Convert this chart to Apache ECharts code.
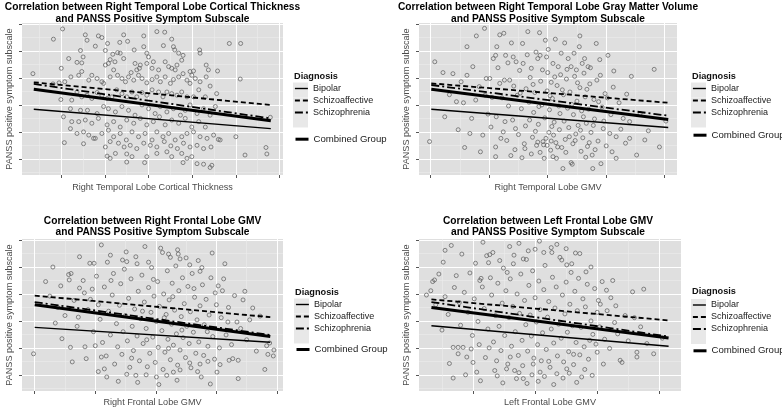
<!DOCTYPE html>
<html><head><meta charset="utf-8">
<script src="https://cdn.jsdelivr.net/npm/echarts@6/dist/echarts.min.js"></script>
<style>html,body{margin:0;padding:0;background:#fff}#c{width:782px;height:410px}</style>
</head><body><div id="c"></div>
<script>
// ---------- text ----------
const panelTitles = [
  'Correlation between Right Temporal Lobe Cortical Thickness\nand PANSS Positive Symptom Subscale',
  'Correlation between Right Temporal Lobe Gray Matter Volume\nand PANSS Positive Symptom Subscale',
  'Correlation between Right Frontal Lobe GMV\nand PANSS Positive Symptom Subscale',
  'Correlation between Left Frontal Lobe GMV\nand PANSS Positive Symptom Subscale'
];
const xAxisNames = ['Right Temporal Lobe Cortical Thickness','Right Temporal Lobe GMV','Right Frontal Lobe GMV','Left Frontal Lobe GMV'];
const yAxisName = 'PANSS positive symptom subscale';
const legendTitle = 'Diagnosis';
const diagnoses = ['Bipolar','Schizoaffective','Schizophrenia'];
const combinedName = 'Combined Group';

// ---------- ticks (unlabelled) ----------
const yTicks = [10,15,20,25,30,35];
const yMinorTicks = [7.5,12.5,17.5,22.5,27.5,32.5];
const p1XTicks = [1,2,3,4,5,6];
const p1XMinor = [0.5,1.5,2.5,3.5,4.5,5.5];
const p2XTicks = [1,2,3,4,5];
const p2XMinor = [1.5,2.5,3.5,4.5];
const p3XTicks = [1,2,3,4,5];
const p3XMinor = [1.5,2.5,3.5,4.5];
const p4XTicks = [2,3,4,5];
const p4XMinor = [1.5,2.5,3.5,4.5];

// ---------- regression lines (x ends, y ends) ----------
const p1LineX = [0.37, 5.80];
const p1Bipolar = [19.2, 15.6];
const p1Schizoaffective = [24.2, 20.0];
const p1Schizophrenia = [23.9, 17.5];
const p1Combined = [22.9, 17.05];

const p2LineX = [1.01, 5.06];
const p2Bipolar = [19.2, 15.8];
const p2Schizoaffective = [24.0, 20.4];
const p2Schizophrenia = [23.7, 18.0];
const p2Combined = [22.9, 17.3];

const p3LineX = [1.0, 4.89];
const p3Bipolar = [18.8, 16.05];
const p3Schizoaffective = [24.7, 20.7];
const p3Schizophrenia = [23.5, 17.4];
const p3Combined = [23.0, 17.1];

const p4LineX = [1.33, 5.15];
const p4Bipolar = [19.1, 15.3];
const p4Schizoaffective = [24.0, 20.1];
const p4Schizophrenia = [23.5, 17.1];
const p4Combined = [22.5, 16.85];

// ---------- scatter points [x, PANSS] ----------
const p1Points = [[1.03,34.1],[0.82,32.2],[1.55,33.0],[1.59,32.0],[1.85,32.8],[1.93,32.5],[2.43,33.0],[2.52,31.8],[2.34,31.6],[2.89,32.8],[3.19,33.6],[3.37,33.5],[3.53,32.2],[3.57,30.8],[3.60,30.2],[3.34,31.0],[4.85,31.4],[5.11,31.4],[1.44,30.1],[1.50,28.9],[1.17,28.6],[1.0,26.8],[1.36,27.9],[1.47,27.8],[1.78,30.9],[2.01,30.1],[2.06,31.4],[2.18,29.4],[2.23,28.0],[2.12,28.4],[2.08,27.7],[2.01,27.4],[2.29,29.7],[2.35,29.6],[2.43,28.6],[2.69,27.7],[2.81,27.4],[2.79,26.8],[2.96,29.6],[3.00,28.9],[3.11,28.0],[2.89,30.8],[2.67,30.2],[2.96,27.7],[2.73,26.5],[3.08,26.8],[3.23,26.5],[3.38,28.0],[3.46,27.1],[3.53,26.8],[3.61,26.5],[3.65,27.4],[3.76,28.3],[3.79,29.2],[3.69,29.6],[4.17,30.2],[4.18,29.6],[4.32,27.4],[4.37,26.5],[4.58,26.3],[3.95,26.2],[3.99,25.5],[4.03,26.3],[5.10,24.8],[0.35,25.8],[1.08,24.3],[0.95,24.1],[0.81,23.9],[1.22,25.2],[1.40,25.5],[1.47,26.2],[1.63,24.6],[1.70,25.5],[1.82,24.9],[1.93,24.3],[1.97,24.0],[2.12,25.2],[2.20,26.5],[2.29,25.5],[2.39,24.9],[2.47,24.3],[2.54,25.2],[2.60,26.0],[2.66,24.6],[2.77,25.5],[2.85,24.9],[2.96,24.1],[3.08,24.7],[3.19,25.2],[3.27,24.3],[3.38,25.2],[3.50,24.0],[3.57,24.7],[3.69,25.2],[3.79,25.8],[3.88,24.6],[3.95,24.0],[4.07,24.9],[4.18,24.3],[4.32,25.2],[4.41,23.5],[4.56,22.1],[4.30,21.5],[4.15,22.8],[4.03,21.5],[3.88,21.5],[3.76,22.4],[3.65,21.8],[3.53,22.1],[3.42,22.4],[3.33,21.5],[3.23,22.4],[3.08,22.8],[2.96,21.8],[2.85,22.3],[2.73,21.5],[2.62,22.4],[2.50,21.5],[2.39,22.1],[2.27,22.8],[2.16,21.5],[2.05,21.2],[1.93,21.8],[1.82,22.3],[1.70,21.2],[1.59,21.8],[1.47,21.5],[1.36,22.4],[1.24,20.9],[0.99,21.0],[1.21,19.3],[1.44,19.0],[1.60,19.0],[1.82,18.4],[1.97,19.7],[2.08,19.3],[2.24,18.7],[2.39,19.7],[2.54,19.0],[2.69,18.1],[2.85,20.0],[3.00,19.3],[3.15,18.4],[3.27,19.7],[3.42,18.7],[3.57,19.3],[3.73,18.1],[3.84,19.0],[3.95,20.0],[4.11,18.4],[4.26,19.3],[4.41,18.1],[4.53,19.7],[1.05,17.8],[1.24,16.9],[1.40,16.9],[1.55,17.2],[1.70,16.6],[1.85,17.5],[2.05,16.3],[2.20,16.9],[2.35,15.9],[2.50,17.2],[2.66,16.6],[2.81,17.5],[2.96,16.3],[3.11,16.9],[3.25,17.8],[3.38,16.3],[3.53,17.2],[3.69,16.6],[3.84,17.5],[3.99,15.9],[4.15,16.9],[4.30,15.9],[1.21,15.6],[1.36,14.7],[1.51,15.0],[1.63,14.4],[1.78,13.8],[1.93,14.7],[2.08,15.3],[2.20,14.1],[2.35,14.7],[2.49,13.5],[2.62,15.0],[2.77,14.1],[2.92,14.7],[3.08,13.5],[3.19,15.0],[3.33,14.1],[3.46,14.7],[3.61,13.5],[3.76,14.1],[3.88,14.7],[4.03,15.0],[4.18,14.1],[4.34,13.8],[4.49,14.4],[4.64,13.5],[5.00,14.1],[1.07,13.0],[1.51,12.8],[1.74,13.8],[2.01,12.2],[2.12,13.2],[2.31,12.9],[2.44,12.2],[2.58,12.5],[2.73,11.9],[2.89,12.9],[3.04,12.5],[3.19,12.2],[3.36,13.2],[3.51,12.4],[3.66,11.9],[3.80,12.9],[3.95,12.2],[4.11,12.5],[4.26,11.9],[4.43,12.2],[4.60,13.6],[2.05,10.5],[2.24,11.0],[2.50,10.9],[2.62,10.4],[2.96,10.4],[3.19,11.0],[3.42,11.3],[3.53,10.4],[3.76,11.0],[3.88,10.1],[3.99,10.4],[3.79,9.3],[4.11,9.1],[4.26,9.0],[4.41,8.4],[4.45,8.8],[2.91,9.3],[2.50,9.4],[2.12,10.1],[5.21,10.7],[5.69,12.1],[5.71,10.9],[5.79,17.7]];

const p2Points = [[0.98,13.2],[1.07,28.0],[1.24,17.8],[1.21,26.0],[1.38,25.8],[1.47,15.4],[1.44,20.6],[1.52,24.3],[1.62,25.5],[1.62,30.8],[1.67,14.7],[1.56,20.4],[1.77,20.9],[1.78,32.8],[1.72,27.1],[1.83,23.4],[1.89,14.4],[1.92,34.2],[1.95,24.9],[2.01,24.9],[1.98,18.3],[2.07,28.6],[2.11,29.2],[2.13,30.8],[2.12,17.8],[2.11,12.2],[2.11,10.4],[2.18,24.0],[2.18,33.0],[2.25,33.3],[2.26,24.6],[2.28,29.2],[2.22,21.3],[2.24,15.0],[2.30,13.4],[2.33,19.8],[2.35,24.6],[2.38,31.5],[2.41,28.9],[2.42,23.5],[2.40,17.2],[2.44,11.7],[2.46,28.0],[2.48,21.8],[2.50,14.5],[2.52,26.4],[2.55,19.3],[2.57,31.4],[2.58,27.7],[2.60,12.8],[2.62,16.1],[2.63,23.0],[2.66,33.6],[2.68,20.5],[2.70,25.1],[2.72,26.8],[2.72,10.9],[2.74,14.0],[2.76,18.6],[2.78,22.3],[2.80,29.8],[2.81,12.5],[2.83,28.6],[2.84,16.4],[2.86,33.4],[2.87,29.2],[2.88,24.4],[2.90,20.0],[2.92,13.2],[2.93,12.6],[2.95,17.6],[2.96,32.0],[2.98,28.9],[2.99,22.6],[3.00,26.0],[3.02,14.9],[3.03,19.1],[3.05,11.6],[3.06,24.2],[3.08,21.2],[3.09,27.7],[3.09,10.4],[3.11,16.8],[3.13,32.2],[3.14,13.0],[3.15,10.1],[3.16,23.6],[3.18,27.1],[3.19,19.8],[3.20,15.4],[3.22,25.6],[3.23,29.6],[3.24,12.1],[3.26,8.2],[3.27,21.9],[3.28,17.0],[3.29,31.5],[3.30,13.6],[3.32,24.8],[3.34,19.4],[3.35,28.6],[3.36,15.8],[3.38,22.4],[3.40,27.1],[3.40,9.3],[3.42,9.0],[3.43,12.8],[3.44,18.2],[3.46,25.3],[3.48,14.6],[3.49,26.5],[3.50,20.7],[3.52,16.2],[3.54,30.8],[3.55,32.8],[3.55,23.2],[3.57,11.4],[3.58,18.9],[3.60,13.9],[3.62,25.9],[3.63,28.6],[3.64,21.5],[3.66,16.6],[3.68,12.3],[3.69,27.1],[3.70,19.2],[3.72,23.9],[3.74,14.9],[3.76,10.7],[3.77,8.2],[3.79,21.0],[3.80,17.4],[3.83,31.4],[3.84,24.6],[3.86,13.3],[3.89,28.4],[3.91,9.1],[3.93,19.6],[3.95,15.6],[3.98,22.1],[4.00,12.4],[4.03,29.2],[4.06,14.7],[4.08,18.2],[4.12,23.3],[4.13,26.3],[4.17,14.1],[4.17,10.1],[4.22,20.4],[4.29,17.5],[4.33,12.9],[4.40,16.9],[4.40,13.8],[4.43,25.3],[4.52,10.7],[4.58,18.4],[4.66,13.5],[4.72,15.2],[4.82,26.6],[4.91,12.2],[5.02,17.0],[1.32,21.9],[1.58,12.1],[1.70,17.5],[1.85,11.3],[1.93,21.8],[2.03,15.9],[2.05,21.4],[2.15,26.9],[2.20,13.8],[2.27,16.9],[2.32,27.8],[2.37,10.6],[2.45,15.6],[2.53,22.2],[2.56,10.2],[2.65,29.3],[2.69,17.2],[2.75,23.8],[2.79,15.1],[2.85,19.7],[2.91,26.5],[2.94,10.1],[2.97,13.8],[3.01,30.3],[3.04,21.7],[3.07,16.0],[3.12,25.2],[3.17,12.2],[3.21,18.4],[3.25,22.8],[3.31,11.2],[3.33,26.6],[3.37,14.1],[3.41,20.1],[3.45,29.6],[3.47,13.4],[3.51,24.1],[3.56,15.3],[3.59,27.7],[3.61,17.8],[3.65,10.3],[3.67,22.9],[3.71,13.0],[3.73,26.9],[3.78,16.2],[3.81,11.7],[3.87,20.6],[3.90,25.5],[3.96,17.0],[4.02,21.3],[4.10,11.3],[4.25,15.5],[4.35,22.0],[2.87,11.2],[2.99,12.5],[3.06,13.3],[2.61,11.9],[2.83,13.1],[3.10,14.4]];

const p3Points = [[0.98,13.9],[1.18,27.3],[1.43,26.5],[1.56,28.6],[1.57,27.6],[1.60,28.8],[1.74,31.9],[1.80,27.5],[1.74,26.1],[1.82,25.2],[1.34,19.6],[1.59,15.1],[1.83,15.2],[1.91,30.7],[1.98,30.7],[2.10,34.1],[2.20,30.9],[2.25,32.2],[2.52,31.0],[2.51,32.8],[2.69,30.6],[2.88,30.9],[3.11,32.7],[3.21,32.4],[3.36,33.2],[3.37,32.4],[3.24,31.8],[3.40,31.5],[3.56,30.4],[3.73,29.2],[3.93,32.6],[4.14,30.6],[4.03,26.5],[4.10,25.6],[4.47,25.5],[4.55,20.2],[4.19,19.8],[4.34,19.8],[4.88,15.9],[4.83,15.4],[4.94,13.5],[4.85,13.8],[4.66,14.4],[4.36,12.7],[4.36,9.3],[4.27,13.0],[4.21,12.7],[4.01,10.5],[3.90,8.3],[3.86,12.5],[3.73,12.0],[2.10,13.3],[2.05,10.6],[2.19,9.6],[2.52,10.1],[2.67,9.9],[2.84,10.0],[3.01,9.6],[3.18,9.9],[3.29,10.5],[3.40,10.9],[1.25,24.6],[1.38,22.5],[1.50,21.0],[1.65,23.8],[1.70,19.0],[1.88,22.1],[1.95,25.9],[1.97,18.0],[2.02,28.3],[2.05,23.0],[2.08,20.3],[2.12,16.0],[2.15,26.3],[2.18,13.5],[2.22,21.8],[2.25,17.4],[2.28,24.8],[2.30,28.8],[2.32,12.0],[2.35,19.5],[2.37,15.2],[2.40,22.9],[2.42,26.9],[2.44,13.8],[2.46,18.0],[2.48,29.6],[2.50,21.0],[2.53,16.3],[2.55,24.2],[2.57,11.4],[2.59,27.8],[2.61,19.0],[2.63,14.5],[2.65,22.2],[2.67,31.9],[2.69,17.2],[2.71,25.5],[2.73,12.6],[2.75,20.4],[2.77,28.5],[2.79,15.8],[2.81,23.5],[2.82,33.8],[2.84,18.6],[2.86,11.5],[2.88,26.2],[2.90,14.0],[2.92,21.6],[2.93,29.9],[2.95,17.0],[2.97,24.6],[2.99,12.3],[3.01,19.9],[3.03,27.3],[3.04,15.1],[3.06,22.7],[3.08,33.5],[3.10,18.2],[3.12,11.0],[3.13,25.0],[3.15,14.2],[3.17,21.2],[3.19,29.3],[3.20,16.6],[3.22,23.9],[3.24,12.8],[3.26,19.4],[3.27,27.0],[3.29,15.5],[3.31,22.0],[3.33,30.2],[3.34,17.6],[3.36,11.8],[3.38,25.6],[3.40,14.6],[3.42,20.8],[3.44,28.0],[3.45,16.9],[3.47,23.2],[3.49,13.2],[3.51,19.0],[3.53,26.4],[3.55,15.8],[3.57,21.7],[3.58,11.3],[3.60,28.8],[3.62,17.9],[3.64,24.4],[3.66,14.0],[3.68,20.2],[3.70,31.2],[3.71,16.1],[3.73,22.8],[3.75,9.6],[3.77,26.7],[3.79,13.6],[3.80,19.3],[3.83,24.0],[3.86,15.3],[3.88,21.1],[3.91,28.0],[3.94,17.1],[3.97,12.9],[4.00,23.0],[4.05,15.0],[4.08,20.6],[4.12,27.8],[4.16,17.4],[4.20,22.5],[4.25,15.6],[4.30,24.7],[4.40,18.6],[4.50,16.5],[4.60,22.4],[4.72,20.9],[4.80,11.0],[4.95,14.6],[1.30,30.0],[1.45,16.7],[1.62,12.4],[1.72,20.7],[1.85,13.0],[1.92,24.0],[2.00,15.4],[2.15,11.1],[2.26,27.5],[2.38,8.8],[2.45,31.3],[2.60,13.1],[2.70,8.6],[2.78,21.8],[2.85,16.5],[2.96,27.7],[3.05,8.2],[3.14,20.6],[3.21,14.9],[3.28,24.5],[3.35,9.0],[3.43,18.3],[3.50,31.7],[3.56,12.2],[3.63,26.0],[3.69,10.6],[3.76,29.9],[3.85,18.0],[3.98,25.2],[4.06,11.9],[4.44,23.9]];

const p4Points = [[1.32,25.6],[1.35,27.3],[1.38,27.6],[1.45,28.7],[1.52,30.9],[1.65,34.0],[1.68,9.4],[1.68,15.1],[1.73,28.4],[1.76,13.9],[1.76,15.1],[1.84,15.1],[1.90,13.3],[1.97,14.8],[2.06,10.5],[2.04,30.7],[2.11,27.5],[2.13,27.9],[2.22,32.1],[2.27,32.3],[2.32,32.7],[2.25,30.8],[2.43,31.2],[2.55,29.0],[2.66,32.2],[2.81,31.5],[2.89,33.0],[3.00,33.3],[3.14,32.7],[3.26,33.6],[3.27,32.7],[3.43,31.3],[3.51,30.4],[3.59,30.6],[3.65,32.6],[3.72,32.5],[3.82,29.1],[4.02,23.8],[4.05,23.1],[4.22,24.3],[4.45,21.0],[4.57,25.4],[4.37,12.7],[4.40,12.3],[4.64,14.2],[4.64,13.3],[4.91,13.9],[3.98,15.7],[4.00,14.2],[3.88,16.4],[3.67,8.6],[3.75,9.6],[3.51,11.1],[3.35,10.2],[3.08,10.5],[2.81,9.3],[2.70,9.3],[2.67,10.8],[2.54,11.1],[2.35,10.8],[2.97,12.0],[1.40,23.0],[1.55,24.5],[1.60,21.2],[1.70,26.2],[1.78,23.4],[1.80,19.2],[1.86,25.3],[1.92,21.6],[1.95,28.9],[1.99,17.3],[2.02,24.1],[2.08,19.9],[2.10,15.6],[2.15,26.3],[2.18,22.3],[2.20,13.2],[2.24,18.5],[2.28,28.0],[2.30,24.8],[2.33,16.1],[2.36,21.0],[2.38,12.6],[2.40,27.0],[2.42,19.0],[2.45,14.5],[2.47,23.3],[2.49,29.8],[2.51,17.3],[2.53,25.6],[2.56,12.0],[2.58,20.6],[2.60,27.8],[2.62,15.3],[2.64,22.7],[2.65,30.6],[2.68,18.0],[2.71,25.0],[2.73,13.6],[2.75,21.4],[2.77,28.7],[2.79,16.4],[2.80,11.7],[2.83,23.8],[2.85,19.3],[2.86,31.4],[2.88,14.4],[2.90,26.6],[2.92,21.1],[2.94,17.2],[2.96,29.3],[2.98,13.1],[3.00,24.3],[3.02,19.8],[3.04,15.6],[3.06,27.4],[3.08,22.1],[3.10,12.6],[3.12,17.8],[3.14,25.8],[3.16,30.3],[3.18,14.7],[3.20,20.7],[3.22,23.6],[3.24,11.4],[3.26,18.5],[3.28,28.1],[3.30,15.9],[3.32,22.4],[3.34,26.3],[3.36,13.5],[3.38,19.4],[3.40,31.8],[3.42,16.8],[3.44,24.8],[3.46,12.4],[3.48,21.3],[3.50,27.2],[3.52,17.9],[3.54,14.3],[3.56,23.1],[3.58,29.0],[3.60,19.1],[3.62,11.9],[3.64,25.5],[3.66,16.0],[3.68,21.9],[3.70,27.9],[3.72,13.7],[3.74,18.8],[3.77,24.1],[3.79,15.2],[3.81,22.6],[3.84,26.8],[3.86,12.9],[3.90,20.0],[3.93,17.5],[3.96,26.0],[4.00,21.6],[4.04,18.9],[4.08,27.3],[4.12,16.6],[4.16,21.9],[4.20,14.9],[4.28,19.7],[4.33,17.6],[4.50,16.3],[4.70,18.9],[4.80,15.8],[5.05,16.8],[1.50,18.3],[1.62,12.1],[1.88,10.0],[2.00,12.3],[2.12,8.9],[2.26,15.0],[2.39,9.8],[2.48,8.5],[2.60,13.3],[2.74,10.4],[2.87,8.4],[2.95,10.0],[3.05,8.8],[3.15,9.7],[3.22,12.5],[3.30,8.2],[3.45,9.4],[3.55,10.3],[3.62,13.8],[3.80,11.0],[3.92,9.9],[4.10,12.0],[4.15,25.7],[4.30,22.8],[4.60,20.6],[1.25,24.8],[1.55,33.1],[1.82,32.4],[2.16,34.6],[2.59,33.8],[2.74,34.4],[3.35,34.2],[3.07,34.8],[3.50,33.4],[3.90,30.0],[4.25,27.5],[4.75,25.9]];

// ---------- layout / style (not data) ----------
const FONT = '"Liberation Sans", Arial, sans-serif';
const layout = [
  {grid:{left:22, top:23, width:261, height:152}, xRange:[0.1,6.08], title:{left:152.5, top:1.5}, diag:{left:294, top:70.5}, leg:{left:294, top:82.5}, comb:{left:294, top:133.2}, nameGap:8},
  {grid:{left:419, top:23, width:258, height:152}, xRange:[0.8,5.21], title:{left:548, top:1.5}, diag:{left:692, top:70.5}, leg:{left:692, top:82.5}, comb:{left:692, top:129.2}, nameGap:8},
  {grid:{left:22, top:239, width:261, height:152}, xRange:[0.79,5.10], title:{left:152.5, top:215}, diag:{left:295, top:287}, leg:{left:295, top:298.5}, comb:{left:295, top:343.5}, nameGap:7},
  {grid:{left:419, top:239, width:262, height:152}, xRange:[1.13,5.35], title:{left:548, top:215}, diag:{left:692, top:285.5}, leg:{left:692, top:299}, comb:{left:692, top:344.8}, nameGap:7}
];
const yRange = [7, 35.2];
const lineStyles = [
  {width:1.4, type:'solid'},
  {width:1.8, type:[5,3]},
  {width:1.8, type:[8,3,2,3]},
  {width:3, type:'solid'}
];

const panels = [
  {points:p1Points, lineX:p1LineX, lines:[p1Bipolar,p1Schizoaffective,p1Schizophrenia,p1Combined], xTicks:p1XTicks, xMinor:p1XMinor},
  {points:p2Points, lineX:p2LineX, lines:[p2Bipolar,p2Schizoaffective,p2Schizophrenia,p2Combined], xTicks:p2XTicks, xMinor:p2XMinor},
  {points:p3Points, lineX:p3LineX, lines:[p3Bipolar,p3Schizoaffective,p3Schizophrenia,p3Combined], xTicks:p3XTicks, xMinor:p3XMinor},
  {points:p4Points, lineX:p4LineX, lines:[p4Bipolar,p4Schizoaffective,p4Schizophrenia,p4Combined], xTicks:p4XTicks, xMinor:p4XMinor}
];
const seriesNames = diagnoses.concat([combinedName]);

const option = {
  animation:false,
  backgroundColor:'#ffffff',
  textStyle:{fontFamily:FONT},
  grid:[], xAxis:[], yAxis:[], series:[], legend:[], title:[]
};

const axisNameStyle = {fontSize:9.1, color:'#4a4a4a', fontFamily:FONT};
const hiddenSymbol = {color:'rgba(0,0,0,0)', borderColor:'rgba(0,0,0,0)', borderWidth:0, opacity:0};

panels.forEach((p, i) => {
  const L = layout[i];
  option.grid.push(Object.assign({show:true, backgroundColor:'#dfdfdf', borderWidth:0}, L.grid));
  option.xAxis.push({type:'value', gridIndex:i, min:L.xRange[0], max:L.xRange[1], position:'top',
    axisLine:{show:false}, axisLabel:{show:false},
    axisTick:{show:false, customValues:p.xMinor},
    splitLine:{show:true, lineStyle:{color:'#ececec', width:0.6}}});
  option.xAxis.push({type:'value', gridIndex:i, min:L.xRange[0], max:L.xRange[1], position:'bottom',
    name:xAxisNames[i], nameLocation:'middle', nameGap:L.nameGap, nameTextStyle:axisNameStyle,
    axisLine:{show:false}, axisLabel:{show:false},
    axisTick:{show:true, length:3, customValues:p.xTicks, lineStyle:{color:'#555', width:1}},
    splitLine:{show:true, lineStyle:{color:'#ffffff', width:1}}});
  option.yAxis.push({type:'value', gridIndex:i, min:yRange[0], max:yRange[1], position:'right',
    axisLine:{show:false}, axisLabel:{show:false},
    axisTick:{show:false, customValues:yMinorTicks},
    splitLine:{show:true, lineStyle:{color:'#ececec', width:0.6}}});
  option.yAxis.push({type:'value', gridIndex:i, min:yRange[0], max:yRange[1], position:'left',
    name:yAxisName, nameLocation:'middle', nameGap:8, nameTextStyle:axisNameStyle,
    axisLine:{show:false}, axisLabel:{show:false},
    axisTick:{show:true, length:3, customValues:yTicks, lineStyle:{color:'#555', width:1}},
    splitLine:{show:true, lineStyle:{color:'#ffffff', width:1}}});

  const xi = 2*i+1, yi = 2*i+1;
  option.series.push({type:'scatter', name:'points'+i, xAxisIndex:xi, yAxisIndex:yi, data:p.points,
    symbol:'circle', symbolSize:4, silent:true, z:2,
    itemStyle:{color:'rgba(0,0,0,0)', borderColor:'#5c5c5c', borderWidth:0.9}});
  p.lines.forEach((ys, k) => {
    option.series.push({type:'line', name:seriesNames[k], xAxisIndex:xi, yAxisIndex:yi,
      data:[[p.lineX[0], ys[0]],[p.lineX[1], ys[1]]], symbol:'none', silent:true, z:3+k,
      lineStyle:{color:'#000', width:lineStyles[k].width, type:lineStyles[k].type, cap:'butt'},
      itemStyle:{color:'#000'}});
  });

  option.title.push({text:panelTitles[i], left:L.title.left, top:L.title.top, padding:0, textAlign:'center',
    textStyle:{fontSize:10.2, fontWeight:'bold', color:'#000', lineHeight:11.5, fontFamily:FONT}});
  option.title.push({text:legendTitle, left:L.diag.left, top:L.diag.top, padding:0,
    textStyle:{fontSize:9.2, fontWeight:'bold', color:'#111', lineHeight:11, fontFamily:FONT}});

  // grey key backgrounds behind the three diagnosis keys
  option.legend.push({data:diagnoses, left:L.leg.left-1, top:L.leg.top, padding:0, orient:'vertical', itemGap:0,
    itemWidth:15, itemHeight:15, icon:'rect', selectedMode:false, z:1,
    itemStyle:{color:'#e8e8e8', borderWidth:0}, formatter:() => '', textStyle:{fontSize:6}});
  option.legend.push({data:diagnoses, left:L.leg.left, top:L.leg.top, padding:0, orient:'vertical', itemGap:0,
    itemWidth:13, itemHeight:15, selectedMode:false, z:3,
    itemStyle:hiddenSymbol,
    lineStyle:{width:'inherit', color:'#000'}, textStyle:{fontSize:9, color:'#222', fontFamily:FONT}});
  option.legend.push({data:[combinedName], left:L.comb.left, top:L.comb.top, padding:0, orient:'vertical',
    itemWidth:13, itemHeight:15, selectedMode:false, z:3,
    itemStyle:hiddenSymbol,
    lineStyle:{width:'inherit', color:'#000'}, textStyle:{fontSize:9.6, color:'#222', fontFamily:FONT}});
});

const chart = echarts.init(document.getElementById('c'), null, {renderer:'canvas'});
chart.setOption(option);
</script>
</body></html>
